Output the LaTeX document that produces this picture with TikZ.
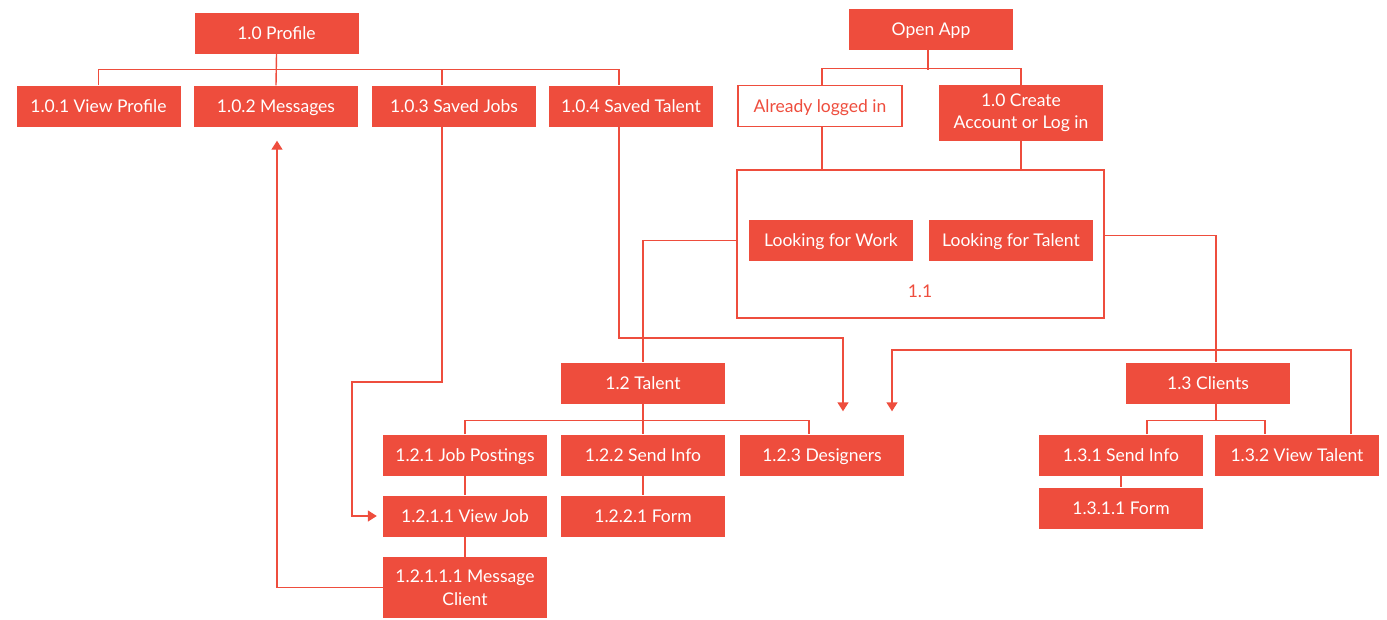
\documentclass[tikz,border=0pt]{standalone}
\usepackage{fontspec}
\setmainfont{Lato}
\usetikzlibrary{arrows.meta}

\definecolor{appred}{RGB}{238,77,61}

\tikzset{
  redfill/.style={fill=appred, text=white, minimum width=164pt, minimum height=41pt, inner sep=0pt, align=center},
  box/.style={redfill, text height=13pt, text depth=0.5pt},
  outlinebox/.style={draw=appred, line width=1.5pt, text=appred, minimum width=164pt, minimum height=41pt, inner sep=0pt, text height=13pt, text depth=0.5pt},
  link/.style={draw=appred, line width=1.4pt},
  arr/.style={link, -{Triangle[width=11pt,length=9pt]}}
}

\begin{document}
\begin{tikzpicture}[x=1pt, y=-1pt, font=\fontsize{17.5}{22.5}\selectfont]
\useasboundingbox (0,0) rectangle (1387,619);

	% Zeichnet den Profil-Zweig oben links
	\node[box] (prof) at (276.5,33.5) {1.0 Profile};
	\node[box] (vprof) at (98.5,106) {1.0.1 View Profile};
	\node[box] (msg) at (276,106) {1.0.2 Messages};
	\node[box] (sjobs) at (454,106) {1.0.3 Saved Jobs};
	\node[box] (stal) at (631,106) {1.0.4 Saved Talent};

	% Verbindungen vom Profil zu den Unterpunkten
	\draw[link] (vprof.north) -- ++(0,-16) -| ([xshift=-12pt]stal.north);
	\draw[link] (prof.south) -- (msg.north);
	\draw[link] ([xshift=-12pt]sjobs.north) -- ++(0,-16);

	% Zeichnet den Start der App
	\node[box] (open) at (931,29.5) {Open App};
	\node[outlinebox] (logged) at (820,106) {Already logged in};
	\node[redfill, minimum height=56pt] (create) at (1021,113) {1.0 Create\\Account or Log in};
	\draw[link] ([xshift=2pt]logged.north) -- ++(0,-16) -| (create.north);
	\draw[link] ([xshift=-3pt]open.south) -- ++(0,20);

	% Zeichnet den grossen Kasten 1.1 mit der Auswahl
	\node[draw=appred, line width=1.5pt, minimum width=367pt, minimum height=148pt, inner sep=0pt] (wahl) at (920.5,244) {};
	\node[box] (work) at (831,240.5) {Looking for Work};
	\node[box] (talent) at (1011,240.5) {Looking for Talent};
	\node[text=appred] (nr11) at (920,291) {1.1};
	\draw[link] ([xshift=2pt]logged.south) -- ([xshift=2pt]logged.south |- wahl.north);
	\draw[link] (create.south) -- (create.south |- wahl.north);

	% Zeichnet den Talent-Zweig
	\node[box] (tal12) at (643,383) {1.2 Talent};
	\node[box] (jobp) at (465,455) {1.2.1 Job Postings};
	\node[box] (send122) at (643,455) {1.2.2 Send Info};
	\node[box] (design) at (822,455) {1.2.3 Designers};
	\node[box] (viewjob) at (465,516) {1.2.1.1 View Job};
	\node[box] (form122) at (643,516) {1.2.2.1 Form};
	\node[redfill, minimum height=61pt] (msgcl) at (465,587.5) {1.2.1.1.1 Message\\Client};

	\draw[link] (work.west -| wahl.west) -| (tal12.north);
	\draw[link] (jobp.north) -- ++(0,-14) -| ([xshift=-13pt]design.north);
	\draw[link] (tal12.south) -- (send122.north);
	\draw[link] (jobp) -- (viewjob);
	\draw[link] (viewjob) -- (msgcl);
	\draw[link] (send122) -- (form122);

	% Zeichnet den Kunden-Zweig
	\node[box] (cli) at (1208,383) {1.3 Clients};
	\node[box] (send131) at (1121,455) {1.3.1 Send Info};
	\node[box] (viewtal) at (1297,455) {1.3.2 View Talent};
	\node[box] (form131) at (1121,508) {1.3.1.1 Form};

	\draw[link] ([yshift=5pt]talent.east -| wahl.east) -| ([xshift=8pt]cli.north);
	\draw[link] ([xshift=26pt]send131.north) -- ++(0,-14) -| ([xshift=-32pt]viewtal.north);
	\draw[link] ([xshift=8pt]cli.south) -- ++(0,16);
	\draw[link] (send131) -- (form131);

	% Querverweise mit Pfeilen
	\coordinate (knickA) at (352,382);
	\coordinate (knickB) at (843,338);
	\coordinate (knickC) at (892,350);
	\draw[arr, shorten >=6pt] ([xshift=-12pt]sjobs.south) |- (knickA) |- (viewjob.west);
	\draw[arr, shorten >=14pt] (msgcl.west) -| ([xshift=1pt]msg.south);
	\draw[arr, shorten >=23pt] ([xshift=-12pt]stal.south) |- (knickB) -- ([xshift=21pt]design.north);
	\draw[arr, shorten >=23pt] ([xshift=54pt]viewtal.north) |- (knickC) -- ([xshift=70pt]design.north);

\end{tikzpicture}
\end{document}
